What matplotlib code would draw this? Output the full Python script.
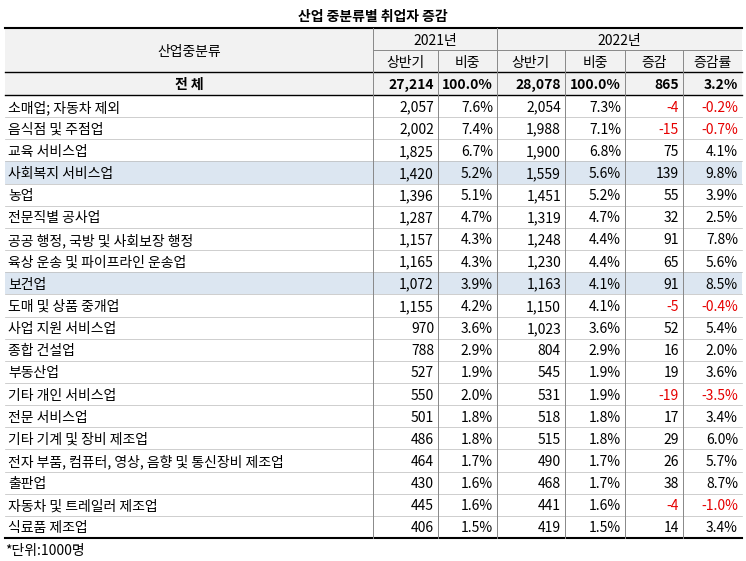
import matplotlib
matplotlib.use("Agg")
import matplotlib.pyplot as plt
from matplotlib.patches import Rectangle
from matplotlib import font_manager as fm

cjk = [f.name for f in fm.fontManager.ttflist if 'CJK' in f.name]
pref = [n for n in ["Noto Sans CJK KR", "Noto Sans CJK JP", "Noto Sans CJK SC"] if n in cjk] or cjk[:1]
plt.rcParams['font.family'] = pref + ['DejaVu Sans']

title = "산업 중분류별 취업자 증감"
categories = ["소매업; 자동차 제외", "음식점 및 주점업", "교육 서비스업", "사회복지 서비스업", "농업",
              "전문직별 공사업", "공공 행정, 국방 및 사회보장 행정", "육상 운송 및 파이프라인 운송업", "보건업",
              "도매 및 상품 중개업", "사업 지원 서비스업", "종합 건설업", "부동산업", "기타 개인 서비스업",
              "전문 서비스업", "기타 기계 및 장비 제조업", "전자 부품, 컴퓨터, 영상, 음향 및 통신장비 제조업",
              "출판업", "자동차 및 트레일러 제조업", "식료품 제조업"]
h2021 = [2057, 2002, 1825, 1420, 1396, 1287, 1157, 1165, 1072, 1155, 970, 788, 527, 550, 501, 486, 464, 430, 445, 406]
s2021 = [7.6, 7.4, 6.7, 5.2, 5.1, 4.7, 4.3, 4.3, 3.9, 4.2, 3.6, 2.9, 1.9, 2.0, 1.8, 1.8, 1.7, 1.6, 1.6, 1.5]
h2022 = [2054, 1988, 1900, 1559, 1451, 1319, 1248, 1230, 1163, 1150, 1023, 804, 545, 531, 518, 515, 490, 468, 441, 419]
s2022 = [7.3, 7.1, 6.8, 5.6, 5.2, 4.7, 4.4, 4.4, 4.1, 4.1, 3.6, 2.9, 1.9, 1.9, 1.8, 1.8, 1.7, 1.7, 1.6, 1.5]
diff = [-4, -15, 75, 139, 55, 32, 91, 65, 91, -5, 52, 16, 19, -19, 17, 29, 26, 38, -4, 14]
rate = [-0.2, -0.7, 4.1, 9.8, 3.9, 2.5, 7.8, 5.6, 8.5, -0.4, 5.4, 2.0, 3.6, -3.5, 3.4, 6.0, 5.7, 8.7, -1.0, 3.4]
total = ["27,214", "100.0%", "28,078", "100.0%", "865", "3.2%"]
highlight = ["사회복지 서비스업", "보건업"]

fig = plt.figure(figsize=(7.46, 5.61), dpi=100)
ax = fig.add_axes([0, 0, 1, 1])
ax.set_xlim(0, 746); ax.set_ylim(561, 0); ax.axis('off')

xs = [5, 373, 438, 497, 565, 625, 683, 742]
y0, yh1, yh2, yt = 28, 50, 72, 95
rh = 22.15
gray = '#f2f2f2'; blue = '#dce6f1'; red = '#e60000'; lc = '#888888'
fs = 10
dy = 1.5

ax.text(373, 15 + dy, title, ha='center', va='center', fontsize=10, fontweight='bold')
ax.add_patch(Rectangle((xs[0], y0), xs[-1]-xs[0], yt-y0, fc=gray, ec='none'))
for i, c in enumerate(categories):
    if c in highlight:
        ax.add_patch(Rectangle((xs[0], yt+i*rh), xs[-1]-xs[0], rh, fc=blue, ec='none'))
yend = yt + len(categories)*rh

ax.text((xs[0]+xs[1])/2, (y0+yh2)/2 + dy, "산업중분류", ha='center', va='center', fontsize=fs)
ax.text((xs[1]+xs[3])/2, (y0+yh1)/2 + dy, "2021년", ha='center', va='center', fontsize=fs)
ax.text((xs[3]+xs[7])/2, (y0+yh1)/2 + dy, "2022년", ha='center', va='center', fontsize=fs)
for j, h in enumerate(["상반기", "비중", "상반기", "비중", "증감", "증감률"]):
    ax.text((xs[j+1]+xs[j+2])/2, (yh1+yh2)/2 + dy, h, ha='center', va='center', fontsize=fs)

ax.text((xs[0]+xs[1])/2, (yh2+yt)/2 + dy, "전 체", ha='center', va='center', fontsize=fs, fontweight='bold')
for j, v in enumerate(total):
    ax.text(xs[j+2]-4, (yh2+yt)/2 + dy, v, ha='right', va='center', fontsize=fs, fontweight='bold')

for i, c in enumerate(categories):
    yc = yt + (i+0.5)*rh + dy
    ax.text(xs[0]+3, yc, c, ha='left', va='center', fontsize=fs)
    vals = [f"{h2021[i]:,}", f"{s2021[i]:.1f}%", f"{h2022[i]:,}", f"{s2022[i]:.1f}%", f"{diff[i]}", f"{rate[i]:.1f}%"]
    for j, v in enumerate(vals):
        col = red if (j >= 4 and diff[i] < 0) else 'black'
        ax.text(xs[j+2]-4, yc, v, ha='right', va='center', fontsize=fs, color=col)

ax.plot([xs[0], xs[-1]], [y0, y0], color='black', lw=1.5)
ax.plot([xs[1], xs[-1]], [yh1, yh1], color=lc, lw=0.7)
ax.plot([xs[0], xs[-1]], [yh2, yh2], color='black', lw=1.0)
ax.plot([xs[0], xs[-1]], [yt, yt], color='black', lw=1.0)
ax.plot([xs[0], xs[-1]], [yend, yend], color='black', lw=1.5)
for i in range(1, len(categories)):
    ax.plot([xs[0], xs[-1]], [yt+i*rh]*2, color='#bbbbbb', lw=0.5)
for k, x in enumerate(xs[1:-1], start=1):
    top = y0 if k in (1, 3) else yh1
    ax.plot([x, x], [top, yend], color=lc, lw=0.7)

ax.text(5, 549 + dy, "*단위:1000명", ha='left', va='center', fontsize=fs)
fig.savefig("out.png", dpi=100)
